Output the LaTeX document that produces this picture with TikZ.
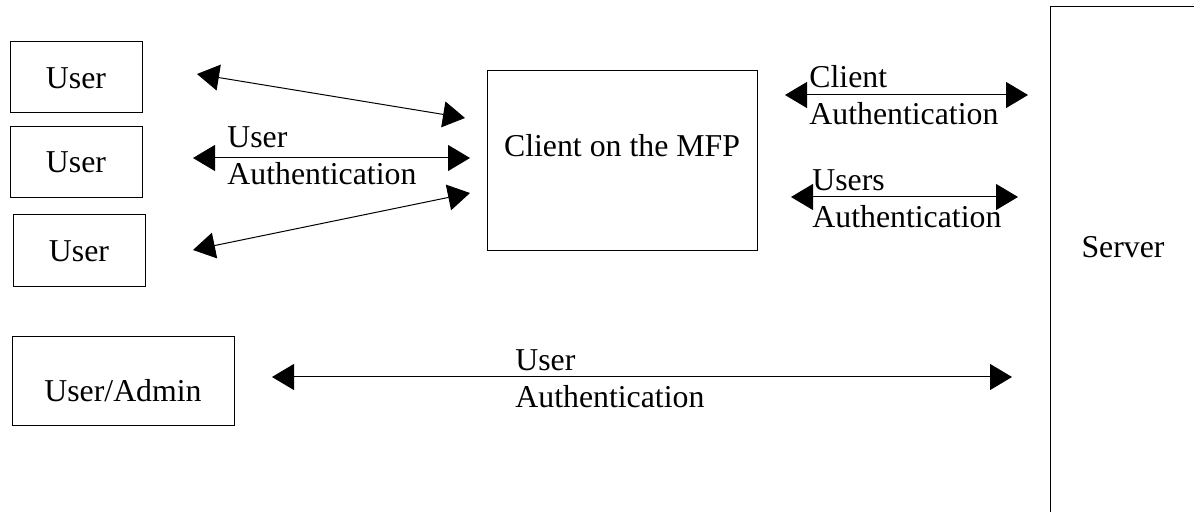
\documentclass[tikz,border=0pt]{standalone}
\usepackage{fontspec}
\setmainfont{Liberation Serif}
\usetikzlibrary{arrows.meta}

\tikzset{
box/.style={draw, line width=0.5pt, inner sep=0pt, anchor=base},
link/.style={line width=0.5pt, {Triangle[length=11pt,width=13pt]}-{Triangle[length=11pt,width=13pt]}},
lbl/.style={align=left, inner sep=0pt, anchor=base west}}

\begin{document}
\begin{tikzpicture}[x=0.5pt, y=-0.5pt]
    \useasboundingbox (0,0) rectangle (1194,512);
    \fontsize{15.9}{18.5}\selectfont

                \node[box, minimum width=66pt, text height=23.5pt, text depth=12pt] (U1) at (76,89) {User};
                \node[box, minimum width=66pt, text height=23pt, text depth=12.5pt] (U2) at (76,173) {User};
                \node[box, minimum width=66pt, text height=23.5pt, text depth=12.5pt] (U3) at (79,262) {User};
                \node[box, minimum width=111pt, text height=32.5pt, text depth=12pt] (A) at (123,402) {User/Admin};
                \node[box, minimum width=135pt, text height=43pt, text depth=47pt] (C) at (622,157) {Client on the MFP};
                \node[box, minimum width=73pt, text height=125.5pt, text depth=140pt] (S) at (1123,258) {Server};

                \coordinate (u1) at (197,74);  \coordinate (c1) at (465,118);
                \coordinate (u2) at (193,158); \coordinate (c2) at (470,158);
                \coordinate (u3) at (193,250); \coordinate (c3) at (470,193);
                \coordinate (c4) at (785,95);  \coordinate (s4) at (1028,95);
                \coordinate (c5) at (791,197); \coordinate (s5) at (1018,197);
                \coordinate (a6) at (272,377); \coordinate (s6) at (1012,377);

                \draw[link] (u1) -- (c1);
                \draw[link] (u2) -- (c2);
                \draw[link] (u3) -- (c3);
                \draw[link] (c4) -- (s4);
                \draw[link] (c5) -- (s5);
                \draw[link] (a6) -- (s6);

                \node[lbl] (L2) at (227,185) {User\\Authentication};
                \node[lbl] (L4) at (809,125) {Client\\Authentication};
                \node[lbl] (L5) at (812,228) {Users\\Authentication};
                \node[lbl] (L6) at (515,408) {User\\Authentication};

            \end{tikzpicture}
\end{document}
